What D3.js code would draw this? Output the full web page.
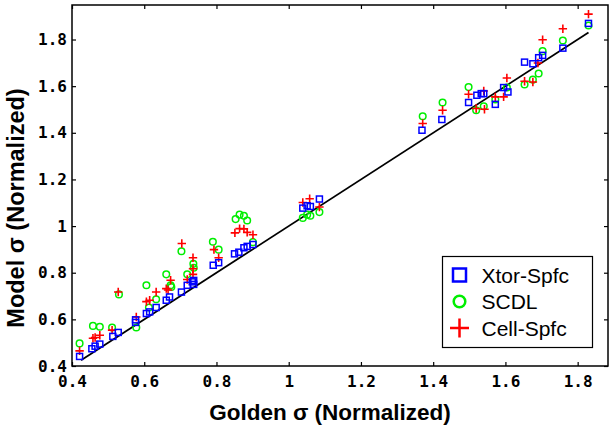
<!DOCTYPE html>
<html>
<head>
<meta charset="utf-8">
<script src="https://cdn.jsdelivr.net/npm/d3@7"></script>
<style>
body{margin:0;background:#fff;}
</style>
</head>
<body>
<script>
// Golden vs model sigma
var xtorX = [0.421,0.455,0.464,0.477,0.513,0.528,0.576,0.576,0.606,0.615,0.633,0.661,0.670,0.703,0.719,0.733,0.737,0.737,0.791,0.806,0.850,0.862,0.876,0.885,0.901,1.039,1.051,1.060,1.085,1.369,1.424,1.498,1.521,1.533,1.540,1.572,1.595,1.607,1.653,1.676,1.692,1.703,1.759,1.830];
var xtorY = [0.441,0.474,0.485,0.494,0.527,0.544,0.587,0.598,0.625,0.632,0.651,0.682,0.696,0.717,0.746,0.761,0.767,0.750,0.832,0.843,0.881,0.888,0.907,0.913,0.921,1.077,1.087,1.084,1.116,1.411,1.457,1.530,1.561,1.568,1.568,1.522,1.594,1.575,1.703,1.696,1.722,1.732,1.763,1.869];

var scdlX = [0.421,0.458,0.477,0.511,0.530,0.578,0.606,0.613,0.633,0.661,0.673,0.675,0.703,0.719,0.736,0.737,0.790,0.806,0.853,0.864,0.876,0.885,0.901,1.039,1.051,1.060,1.085,1.371,1.426,1.498,1.519,1.540,1.572,1.604,1.653,1.676,1.692,1.703,1.759,1.830];
var scdlY = [0.497,0.572,0.568,0.565,0.707,0.565,0.746,0.651,0.686,0.793,0.746,0.739,0.892,0.793,0.838,0.821,0.933,0.899,1.030,1.049,1.044,1.024,0.931,1.035,1.049,1.044,1.060,1.471,1.530,1.596,1.497,1.514,1.543,1.594,1.607,1.628,1.654,1.750,1.796,1.860];

var cellX = [0.421,0.458,0.464,0.477,0.511,0.528,0.578,0.606,0.615,0.633,0.661,0.666,0.673,0.704,0.719,0.735,0.735,0.735,0.793,0.806,0.851,0.864,0.876,0.885,0.901,1.039,1.058,1.085,1.371,1.426,1.498,1.519,1.540,1.542,1.572,1.595,1.604,1.653,1.676,1.690,1.703,1.759,1.830];
var cellY = [0.465,0.519,0.522,0.532,0.554,0.717,0.610,0.676,0.682,0.717,0.732,0.726,0.768,0.925,0.771,0.864,0.817,0.793,0.899,0.864,0.971,0.989,0.988,0.973,0.963,1.101,1.117,1.082,1.440,1.497,1.565,1.504,1.579,1.501,1.554,1.554,1.635,1.621,1.618,1.699,1.799,1.846,1.909];

var refLine = [0.425, 1.83];
var tickVals = [0.4,0.6,0.8,1,1.2,1.4,1.6,1.8];
var legendNames = ['Xtor-Spfc','SCDL','Cell-Spfc'];

var width = 609, height = 432;
var pl = 72, pr = 608, pt = 5, pb = 366;

var svg = d3.select('body').append('svg').attr('width',width).attr('height',height);

var x = d3.scaleLinear().domain([0.4,1.884]).range([pl,pr]);
var y = d3.scaleLinear().domain([0.4,1.948]).range([pb,pt]);

var fmt = d3.format('~g');
var tickFont = "bold 16px 'DejaVu Sans Mono', 'Liberation Mono', monospace";

function styleAxis(g){
	g.select('.domain').remove();
	g.selectAll('.tick line').attr('stroke','#000').attr('stroke-width',1.2);
	g.selectAll('.tick text').style('font',tickFont).attr('fill','#000');
}

svg.append('g').attr('transform','translate(0,'+pb+')')
	.call(d3.axisBottom(x).tickValues(tickVals).tickFormat(fmt).tickSize(-4).tickPadding(10)).call(styleAxis);
svg.append('g').attr('transform','translate('+pl+',0)')
	.call(d3.axisLeft(y).tickValues(tickVals).tickFormat(fmt).tickSize(-4).tickPadding(5)).call(styleAxis);
svg.append('g').attr('transform','translate(0,'+pt+')')
	.call(d3.axisTop(x).tickValues(tickVals).tickFormat('').tickSize(-4)).call(styleAxis);
svg.append('g').attr('transform','translate('+pr+',0)')
	.call(d3.axisRight(y).tickValues(tickVals).tickFormat('').tickSize(-4)).call(styleAxis);

// frame
svg.append('rect').attr('x',pl).attr('y',pt).attr('width',pr-pl).attr('height',pb-pt)
	.attr('fill','none').attr('stroke','#000').attr('stroke-width',1.5);

// y = x line
svg.append('line').attr('x1',x(refLine[0])).attr('y1',y(refLine[0])).attr('x2',x(refLine[1])).attr('y2',y(refLine[1]))
	.attr('stroke','#000').attr('stroke-width',1.8);

var blue = '#0000ff', green = '#00ee00', red = '#ff0000';

svg.append('g').selectAll('circle').data(d3.range(scdlX.length)).enter().append('circle')
	.attr('cx',function(i){return x(scdlX[i]);}).attr('cy',function(i){return y(scdlY[i]);}).attr('r',3.3)
	.attr('fill','none').attr('stroke',green).attr('stroke-width',1.5);

var p = 4.2;
svg.append('g').selectAll('path').data(d3.range(cellX.length)).enter().append('path')
	.attr('d',function(i){var cx=x(cellX[i]),cy=y(cellY[i]);return 'M'+(cx-p)+','+cy+'H'+(cx+p)+'M'+cx+','+(cy-p)+'V'+(cy+p);})
	.attr('fill','none').attr('stroke',red).attr('stroke-width',1.6);

var s = 6;
svg.append('g').selectAll('rect').data(d3.range(xtorX.length)).enter().append('rect')
	.attr('x',function(i){return x(xtorX[i])-s/2;}).attr('y',function(i){return y(xtorY[i])-s/2;})
	.attr('width',s).attr('height',s)
	.attr('fill','none').attr('stroke',blue).attr('stroke-width',1.5);

// legend
var lg = svg.append('g');
lg.append('rect').attr('x',442.5).attr('y',256.5).attr('width',150).attr('height',91)
	.attr('fill','#fff').attr('stroke','#000').attr('stroke-width',1.2);
var ly = [275,301.5,328];
lg.append('rect').attr('x',459.5-6.5).attr('y',ly[0]-6.5).attr('width',13).attr('height',13)
	.attr('fill','none').attr('stroke',blue).attr('stroke-width',2.5);
lg.append('circle').attr('cx',459.5).attr('cy',ly[1]).attr('r',5.8)
	.attr('fill','none').attr('stroke',green).attr('stroke-width',2.5);
lg.append('path').attr('d','M'+(459.5-9.5)+','+ly[2]+'H'+(459.5+9.5)+'M459.5,'+(ly[2]-9.5)+'V'+(ly[2]+9.5))
	.attr('fill','none').attr('stroke',red).attr('stroke-width',2.5);
lg.selectAll('text').data(legendNames).enter().append('text')
	.attr('x',481.5).attr('y',function(d,i){return ly[i]+7.5;})
	.style('font',"21px 'Liberation Sans', Arial, sans-serif").attr('fill','#000')
	.text(function(d){return d;});

// axis titles
svg.append('text').attr('x',330).attr('y',420).attr('text-anchor','middle')
	.style('font',"bold 22.5px 'Liberation Sans', Arial, sans-serif").text('Golden σ (Normalized)');
svg.append('text').attr('transform','translate(24,208) rotate(-90)').attr('text-anchor','middle')
	.style('font',"bold 23.5px 'Liberation Sans', Arial, sans-serif").text('Model σ (Normalized)');
</script>
</body>
</html>
